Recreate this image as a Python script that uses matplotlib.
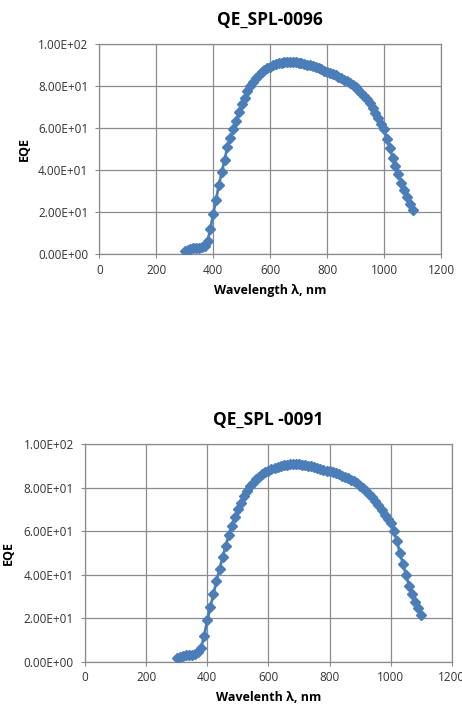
import numpy as np
import matplotlib.pyplot as plt

plt.rcParams['font.family'] = ['Open Sans', 'DejaVu Sans']

# wavelength grid, nm
wavelength = list(range(300, 1101, 10))

# EQE, QE_SPL-0096
eqe_0096 = [1.5, 2.0, 2.5, 2.8, 3.0, 3.0, 3.2, 4.0, 6.0, 12.0,
            19.0, 26.0, 33.0, 39.0, 45.0, 51.0, 55.5, 59.5, 63.5, 67.5,
            71.5, 74.5, 77.5, 80.0, 82.0, 83.8, 85.3, 86.7, 87.8, 88.7,
            89.4, 90.0, 90.5, 90.9, 91.2, 91.5, 91.7, 91.8, 91.7, 91.5,
            91.2, 90.9, 90.6, 90.3, 89.9, 89.5, 89.0, 88.5, 88.0, 87.5,
            87.0, 86.5, 86.0, 85.3, 84.6, 84.0, 83.2, 82.4, 81.5, 80.6,
            79.6, 78.4, 77.0, 75.5, 73.8, 72.0, 69.8, 67.3, 64.7, 62.2,
            59.5, 55.0, 50.5, 46.0, 42.0, 38.0, 34.0, 30.5, 27.0, 24.0,
            21.0]

# EQE, QE_SPL -0091
eqe_0091 = [1.8, 2.2, 2.6, 2.9, 3.1, 3.2, 3.5, 4.5, 6.5, 12.0,
            19.0, 25.0, 31.0, 37.0, 42.5, 48.0, 53.0, 58.0, 62.5, 66.5,
            70.0, 73.0, 76.0, 78.5, 80.5, 82.3, 83.8, 85.0, 86.0, 86.9,
            87.6, 88.3, 88.9, 89.4, 89.8, 90.2, 90.5, 90.7, 90.8, 90.8,
            90.7, 90.5, 90.3, 90.0, 89.7, 89.4, 89.0, 88.6, 88.2, 87.8,
            87.4, 87.0, 86.5, 86.0, 85.5, 84.9, 84.3, 83.6, 82.8, 81.9,
            80.9, 79.7, 78.4, 77.0, 75.5, 73.8, 71.8, 69.5, 67.2, 65.5,
            63.5, 60.0, 55.5, 50.0, 45.0, 40.0, 35.0, 31.0, 27.5, 24.5,
            21.5]

titles = ['QE_SPL-0096', 'QE_SPL -0091']
xlabels = ['Wavelength \u03bb, nm', 'Wavelenth \u03bb, nm']
xticks = [0, 200, 400, 600, 800, 1000, 1200]
yticks = [0, 20, 40, 60, 80, 100]
ytick_labels = ['0.00E+00', '2.00E+01', '4.00E+01', '6.00E+01', '8.00E+01', '1.00E+02']

blue = '#4a7ebb'
grid_c = '#8c8c8c'

fig = plt.figure(figsize=(4.62, 7.09), dpi=100)
ax1 = fig.add_axes([0.215, 0.6417, 0.7395, 0.2958])
ax2 = fig.add_axes([0.184, 0.0667, 0.794, 0.3071])

for ax, eqe, title, xl, ypad in [(ax1, eqe_0096, titles[0], xlabels[0], 5),
                                  (ax2, eqe_0091, titles[1], xlabels[1], 6)]:
    ax.plot(wavelength, eqe, color=blue, lw=2, marker='D', markersize=5.5,
            markerfacecolor=blue, markeredgecolor=blue, zorder=3)
    ax.set_xlim(0, 1200)
    ax.set_ylim(0, 100)
    ax.set_xticks(xticks)
    ax.set_yticks(yticks)
    ax.set_yticklabels(ytick_labels)
    ax.grid(True, color=grid_c, lw=0.9)
    for s in ax.spines.values():
        s.set_color(grid_c)
        s.set_linewidth(0.9)
    ax.tick_params(labelsize=8.5, colors='#333333', length=3, color=grid_c)
    ax.tick_params(axis='y', pad=5)
    ax.tick_params(axis='x', pad=4)
    ax.set_title(title, fontsize=12.5, fontweight='bold', pad=14)
    ax.set_xlabel(xl, fontsize=9, fontweight='bold', labelpad=5)
    ax.set_ylabel('EQE', fontsize=9, fontweight='bold', labelpad=ypad)

fig.savefig('out.png', dpi=100)
